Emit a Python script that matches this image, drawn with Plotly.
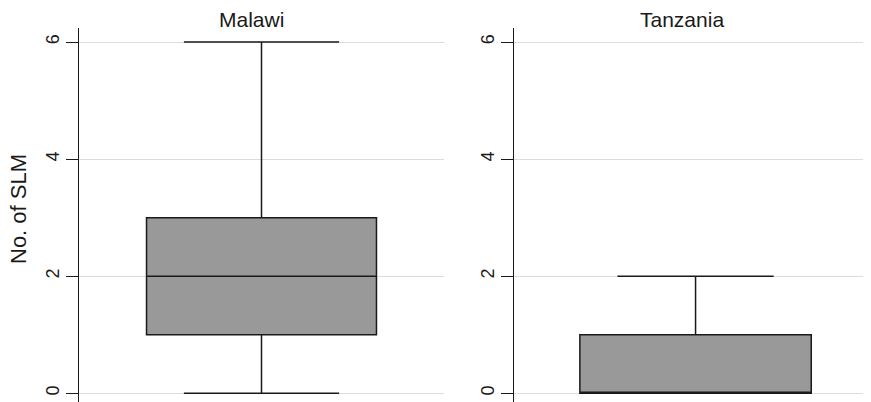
import plotly.graph_objects as go

countries = ["Malawi", "Tanzania"]
mins = [0, 0]
q1s = [1, 0]
medians = [2, 0]
q3s = [3, 1]
maxs = [6, 2]
y_ticks = [0, 2, 4, 6]
y_title = "No. of SLM"

W, H = 871, 402
OFF = 8  # page body margin offset
TOP = 28 - OFF
BOT = OFF
plot_h = H - TOP - BOT
fig = go.Figure()
axes = [("x", "y"), ("x2", "y2")]
widths = [0.63, 0.65]
for i, c in enumerate(countries):
    xa, ya = axes[i]
    fig.add_trace(go.Box(
        x=[0], q1=[q1s[i]], median=[medians[i]], q3=[q3s[i]],
        lowerfence=[mins[i]], upperfence=[maxs[i]],
        width=widths[i], whiskerwidth=0.675,
        fillcolor="#999999", line=dict(color="#1a1a1a", width=1.5),
        boxpoints=False, name=c, showlegend=False, hoverinfo="skip",
        xaxis=xa, yaxis=ya,
    ))

font = "Liberation Sans, Arial, Helvetica, sans-serif"
yax = dict(range=[-0.15, 6.24], tickvals=y_ticks, tickangle=-90, automargin=False,
           showline=True, linecolor="#1a1a1a", linewidth=1,
           ticks="outside", ticklen=12, tickcolor="#1a1a1a",
           showgrid=True, gridcolor="#dcdcdc", gridwidth=1,
           zeroline=False, tickfont=dict(size=18, color="#1a1a1a", family=font))
xax = dict(showgrid=False, zeroline=False, showline=False, showticklabels=False,
           ticks="", automargin=False)

def py(pix):
    return 1 + (TOP - (pix - OFF)) / plot_h

def px(pix):
    return (pix - OFF) / W

fig.update_layout(
    width=W, height=H, margin=dict(l=0, r=0, t=TOP, b=BOT, autoexpand=False),
    plot_bgcolor="white", paper_bgcolor="white",
    font=dict(family=font, size=21, color="#1a1a1a"),
    xaxis=dict(domain=[px(79), px(444)], range=[-0.5, 0.5], **xax),
    xaxis2=dict(domain=[px(514), px(870)], range=[-0.51, 0.49], **xax),
    yaxis=dict(anchor="x", **yax),
    yaxis2=dict(anchor="x2", **yax),
    annotations=[
        dict(text=countries[0], x=px(251), y=py(20), xref="paper", yref="paper", showarrow=False,
             yanchor="middle", xanchor="center", font=dict(size=21)),
        dict(text=countries[1], x=px(682), y=py(20), xref="paper", yref="paper", showarrow=False,
             yanchor="middle", xanchor="center", font=dict(size=21)),
        dict(text=y_title, x=px(19), y=py(209), xref="paper", yref="paper", showarrow=False,
             textangle=-90, xanchor="center", yanchor="middle", font=dict(size=22)),
    ],
)
fig.write_html("out.html")
